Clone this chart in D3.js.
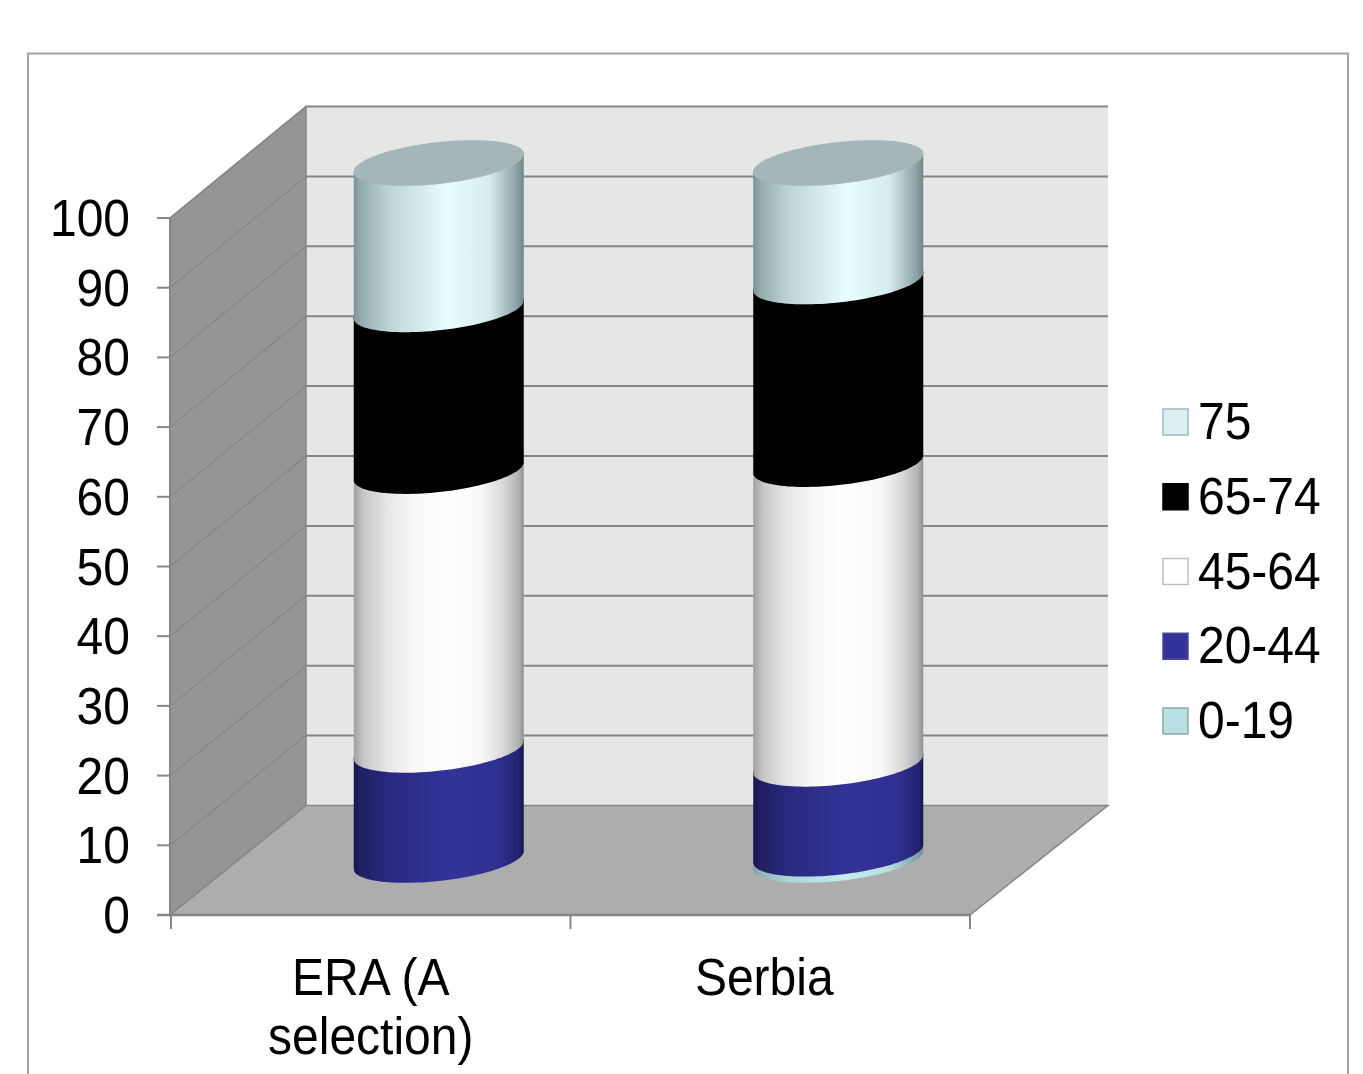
<!DOCTYPE html>
<html><head><meta charset="utf-8">
<script src="https://cdnjs.cloudflare.com/ajax/libs/d3/7.8.5/d3.min.js"></script>
<style>html,body{margin:0;padding:0;background:#fff;overflow:hidden}svg{display:block}text{font-family:"Liberation Sans",Arial,sans-serif;fill:#000}</style>
</head><body><svg id="c" width="1363" height="1074"></svg>
<script>
const categories = ["ERA (A selection)", "Serbia"];
const categoryLines = [["ERA (A", "selection)"], ["Serbia"]];
const seriesNames = ["0-19", "20-44", "45-64", "65-74", "75"];
const age0to19 = [0, 0.9];
const age20to44 = [15.8, 12.9];
const age45to64 = [40.0, 43.0];
const age65to74 = [23.2, 26.2];
const age75plus = [21.0, 17.0];
const yTicks = [0,10,20,30,40,50,60,70,80,90,100];

const values = [age0to19, age20to44, age45to64, age65to74, age75plus];
const swatch = ["#b9e0e3", "#333399", "#ffffff", "#000000", "#dcf0f3"];
const swatchStroke = ["#8fa8aa", "#4a4a9a", "#c0c0c0", "#000000", "#a6b8ba"];
const capCol = ["#a8cfd2", "#24246c", "#bdbdbd", "#222222", "#a4b7b8"];
const grads = [
 [[0,"#7f9fa2"],[.03,"#8fb0b2"],[.2,"#aed3d6"],[.55,"#c4eef1"],[.8,"#b5dde0"],[.97,"#7f9fa2"],[1,"#6f8d90"]],
 [[0,"#17174f"],[.04,"#1f1f64"],[.2,"#29297e"],[.55,"#333399"],[.85,"#303092"],[.97,"#232370"],[1,"#15154a"]],
 [[0,"#a0a0a0"],[.06,"#c8c8c8"],[.2,"#e6e6e6"],[.35,"#f8f8f8"],[.55,"#ffffff"],[.75,"#f8f8f8"],[.88,"#d8d8d8"],[.97,"#b0b0b0"],[1,"#909090"]],
 [[0,"#000"],[1,"#000"]],
 [[0,"#7b9496"],[.04,"#93abad"],[.2,"#bcd3d6"],[.55,"#e8fdff"],[.8,"#d6ebee"],[.96,"#8ba1a3"],[1,"#6f8688"]]
];

const svg = d3.select("#c");
const depthX = 136, depthY = 110;
const line = "#868686";
const x = d3.scaleBand().domain(categories).range([171, 970]);
const y = d3.scaleLinear().domain([0,100]).range([915,218]);
const yBack = d3.scaleLinear().domain([0,100]).range([805.5,106.5]);
const poly = d3.line();
const label = (px,py,str,anchor)=>svg.append("text")
  .attr("transform",`translate(${px},${py}) scale(1,1.07)`)
  .attr("text-anchor",anchor).attr("font-size",48).text(str);

// frame
svg.append("path").attr("d","M28,1080V53.5H1348V1080").attr("fill","#fff").attr("stroke","#a3a3a3").attr("stroke-width",2);

// walls and floor
const [xL,xR] = x.range();
svg.append("path").attr("d",poly([[xR+depthX+2,yBack(100)],[xL+depthX-1,yBack(100)],[xL+depthX-1,yBack(0)],[xR+depthX+2,yBack(0)]])+"Z").attr("fill","#e6e6e6");
svg.append("path").attr("d",poly([[xL-1,y(100)],[xL+depthX-1,yBack(100)],[xL+depthX-1,yBack(0)],[xL-1,y(0)]])+"Z").attr("fill","#959595").attr("stroke",line).attr("stroke-width",1.5);
svg.append("path").attr("d",poly([[xL-1,y(0)],[xL+depthX-1,yBack(0)],[xR+depthX+2,yBack(0)],[xR,y(0)]])+"Z").attr("fill","#adadad").attr("stroke",line).attr("stroke-width",1.5);

// gridlines
yTicks.filter(t=>t>0).forEach(t=>{
  svg.append("line").attr("x1",xL+depthX-1).attr("x2",xR+depthX+2).attr("y1",yBack(t)).attr("y2",yBack(t)).attr("stroke",line).attr("stroke-width",2);
  svg.append("line").attr("x1",xL-1).attr("x2",xL+depthX-1).attr("y1",y(t)).attr("y2",yBack(t)).attr("stroke",line).attr("stroke-width",1.2);
});

// axes
svg.append("line").attr("x1",xL-1).attr("x2",xL-1).attr("y1",y(100)).attr("y2",y(0)).attr("stroke",line).attr("stroke-width",2);
svg.append("line").attr("x1",157).attr("x2",xR).attr("y1",y(0)).attr("y2",y(0)).attr("stroke",line).attr("stroke-width",2.4);
yTicks.forEach(t=>{
  svg.append("line").attr("x1",157).attr("x2",xL).attr("y1",y(t)).attr("y2",y(t)).attr("stroke",line).attr("stroke-width",2);
  label(130,y(t)+18,t,"end");
});
const xTickPos = [x.range()[0], x.range()[0]+x.bandwidth(), x.range()[1]];
xTickPos.forEach(p=>svg.append("line").attr("x1",p).attr("x2",p).attr("y1",915).attr("y2",929).attr("stroke",line).attr("stroke-width",2));

// gradients
const defs = svg.append("defs");
grads.forEach((g,i)=>{
  const lg = defs.append("linearGradient").attr("id","g"+i).attr("x1",0).attr("x2",1).attr("y1",0).attr("y2",0);
  g.forEach(s=>lg.append("stop").attr("offset",s[0]).attr("stop-color",s[1]));
});

// cylinders
const rx = 85, ry = 21, tilt = 9;
const ell = (cx,cy,t)=>[cx+rx*Math.cos(t), cy-tilt*Math.cos(t)+ry*Math.sin(t)];
const ts = d3.range(0,61).map(i=>i/60*Math.PI);
const tsBack = d3.range(0,61).map(i=>Math.PI+i/60*Math.PI);

categories.forEach((cat,ci)=>{
  const cx = x(cat)+x.bandwidth()/2+depthX/2;
  let cum = 0;
  seriesNames.forEach((s,si)=>{
    const v = values[si][ci];
    if(v<=0){ return; }
    const yb = y(cum)-depthY/2, yt = y(cum+v)-depthY/2;
    const front = ts.map(t=>ell(cx,yb,t));
    const back = tsBack.map(t=>ell(cx,yt,t));
    svg.append("path").attr("d",poly(front.concat(back))+"Z").attr("fill",`url(#g${si})`);
    const cap = ts.concat(tsBack).map(t=>ell(cx,yt,t));
    svg.append("path").attr("d",poly(cap)+"Z").attr("fill",capCol[si]);
    cum += v;
  });
});

// category labels
categories.forEach((cat,ci)=>{
  const cxl = x(cat)+x.bandwidth()/2 - (ci===1?6:0);
  categoryLines[ci].forEach((l,li)=>label(cxl,994.5+li*59,l,"middle"));
});

// legend
const legendY = d3.scalePoint().domain(seriesNames.slice().reverse()).range([422,721]);
seriesNames.forEach((s,si)=>{
  const cy = legendY(s);
  svg.append("rect").attr("x",1163).attr("y",cy-13).attr("width",25).attr("height",26).attr("fill",swatch[si]).attr("stroke",swatchStroke[si]).attr("stroke-width",1.5);
  label(1198,cy+17,s,"start");
});
</script></body></html>
